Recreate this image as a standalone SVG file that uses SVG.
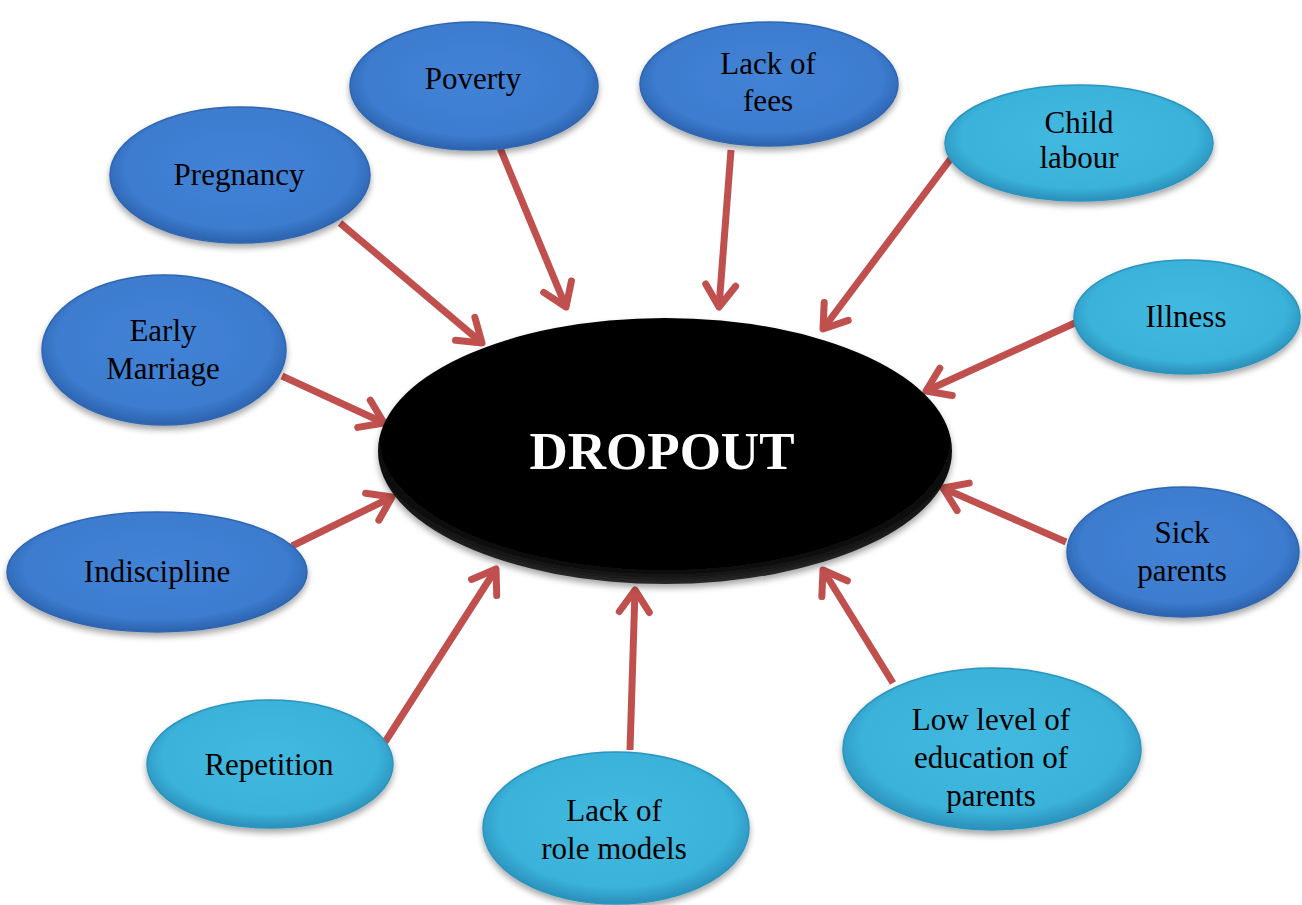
<svg xmlns="http://www.w3.org/2000/svg" width="1302" height="905" viewBox="0 0 1302 905">
<defs>
<radialGradient id="gBlue" cx="50%" cy="45%" r="55%">
<stop offset="0%" stop-color="#4283D6"/>
<stop offset="80%" stop-color="#3C7CCF"/>
<stop offset="100%" stop-color="#2C62AE"/>
</radialGradient>
<radialGradient id="gCyan" cx="50%" cy="45%" r="55%">
<stop offset="0%" stop-color="#42B9E0"/>
<stop offset="80%" stop-color="#3AB2DA"/>
<stop offset="100%" stop-color="#2A8FBA"/>
</radialGradient>
<radialGradient id="gBlack" cx="50%" cy="45%" r="55%">
<stop offset="0%" stop-color="#000"/>
<stop offset="90%" stop-color="#050505"/>
<stop offset="100%" stop-color="#2a2a2a"/>
</radialGradient>
<filter id="sh" x="-20%" y="-20%" width="140%" height="150%">
<feDropShadow dx="0" dy="4" stdDeviation="3" flood-color="#000" flood-opacity="0.35"/>
</filter>
<marker id="ah" markerUnits="userSpaceOnUse" markerWidth="60" markerHeight="60" viewBox="-40 -30 60 60" refX="0" refY="0" orient="auto">
<path d="M-22,-15 L0,0 L-22,15" fill="none" stroke="#C0504D" stroke-width="7" stroke-linecap="round" stroke-linejoin="round"/>
</marker>
<style>
.blue{fill:url(#gBlue);stroke:#2F66B0;stroke-width:1.5;filter:url(#sh)}
.cyan{fill:url(#gCyan);stroke:#2C95BE;stroke-width:1.5;filter:url(#sh)}
.lbl{font-family:"Liberation Serif","Times New Roman",serif;font-size:31px;fill:#000;text-anchor:middle}
.conn line{stroke:#C0504D;stroke-width:7;marker-end:url(#ah)}
</style>
</defs>
<rect width="1302" height="905" fill="#fff"/>
<g id="connectors" class="conn">
<line x1="500" y1="148" x2="566" y2="307"/>
<line x1="731" y1="150" x2="719" y2="307"/>
<line x1="340" y1="223" x2="482" y2="343"/>
<line x1="952" y1="157" x2="823" y2="329"/>
<line x1="282" y1="376" x2="384" y2="423"/>
<line x1="1077" y1="322" x2="926" y2="391"/>
<line x1="292" y1="546" x2="392" y2="497"/>
<line x1="1066" y1="542" x2="943" y2="488"/>
<line x1="385" y1="742" x2="496" y2="569"/>
<line x1="630" y1="750" x2="635" y2="590"/>
<line x1="893" y1="683" x2="823" y2="570"/>
</g>
<g id="dropout">
<ellipse cx="665" cy="451" rx="287" ry="133" fill="url(#gBlack)" filter="url(#sh)"/>
<text x="662" y="469" font-family="Liberation Serif,'Times New Roman',serif" font-size="53" font-weight="bold" fill="#fff" text-anchor="middle">DROPOUT</text>
</g>
<g id="poverty">
<ellipse class="blue" cx="474" cy="86" rx="124" ry="64"/>
<text class="lbl" x="473" y="89">Poverty</text>
</g>
<g id="lack-of-fees">
<ellipse class="blue" cx="769" cy="84" rx="129" ry="62"/>
<text class="lbl" x="768" y="74">Lack of</text>
<text class="lbl" x="768" y="111">fees</text>
</g>
<g id="pregnancy">
<ellipse class="blue" cx="240" cy="175" rx="130" ry="68"/>
<text class="lbl" x="239" y="185">Pregnancy</text>
</g>
<g id="child-labour">
<ellipse class="cyan" cx="1079" cy="143" rx="134" ry="58"/>
<text class="lbl" x="1079" y="133">Child</text>
<text class="lbl" x="1079" y="168">labour</text>
</g>
<g id="early-marriage">
<ellipse class="blue" cx="164" cy="350" rx="122" ry="75"/>
<text class="lbl" x="163" y="341">Early</text>
<text class="lbl" x="163" y="379">Marriage</text>
</g>
<g id="illness">
<ellipse class="cyan" cx="1187" cy="317" rx="113" ry="57"/>
<text class="lbl" x="1186" y="327">Illness</text>
</g>
<g id="indiscipline">
<ellipse class="blue" cx="157" cy="572" rx="150" ry="60"/>
<text class="lbl" x="157" y="582">Indiscipline</text>
</g>
<g id="sick-parents">
<ellipse class="blue" cx="1183" cy="552" rx="116" ry="65"/>
<text class="lbl" x="1182" y="543">Sick</text>
<text class="lbl" x="1182" y="581">parents</text>
</g>
<g id="repetition">
<ellipse class="cyan" cx="270" cy="764" rx="123" ry="64"/>
<text class="lbl" x="269" y="775">Repetition</text>
</g>
<g id="lack-of-role-models">
<ellipse class="cyan" cx="616" cy="828" rx="133" ry="76"/>
<text class="lbl" x="614" y="821">Lack of</text>
<text class="lbl" x="614" y="859">role models</text>
</g>
<g id="low-level-education">
<ellipse class="cyan" cx="992" cy="749" rx="149" ry="81"/>
<text class="lbl" x="991" y="730">Low level of</text>
<text class="lbl" x="991" y="768">education of</text>
<text class="lbl" x="991" y="806">parents</text>
</g>
</svg>
